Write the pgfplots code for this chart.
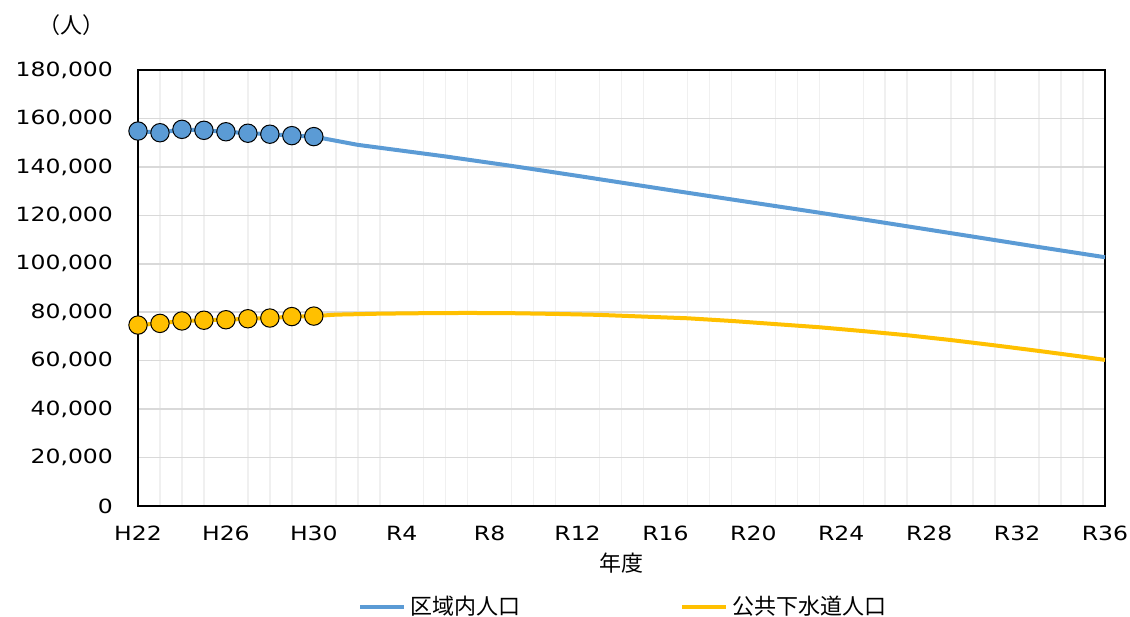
\documentclass[border=0pt]{standalone}
\usepackage{fontspec}
\setmainfont{DejaVu Sans}[FakeStretch=1.2]
\newfontfamily\cjk{Noto Sans CJK JP}
\usepackage{pgfplots}
\pgfplotsset{compat=1.18}
\definecolor{popblue}{HTML}{5B9BD5}
\definecolor{sewer}{HTML}{FFC000}
\definecolor{hgrid}{HTML}{D9D9D9}
\definecolor{vgrid}{HTML}{F0F0F0}

\begin{document}
\begin{tikzpicture}[font=\fontsize{9.8}{12}\selectfont]
% page = 1130 x 616 px, 1 px = 0.5pt
\path[use as bounding box] (-69pt,-55pt) rectangle (496pt,253pt);
\begin{axis}[
  at={(0,0)}, anchor=south west,
  width=483.5pt, height=218pt, scale only axis,
  xmin=0, xmax=44, ymin=0, ymax=180000,
  xtick={0,4,...,44},
  xticklabels={H22,H26,H30,R4,R8,R12,R16,R20,R24,R28,R32,R36},
  minor x tick num=3,
  ytick={0,20000,...,180000},
  scaled y ticks=false,
  /pgf/number format/fixed,
  /pgf/number format/1000 sep={,},
  /pgf/number format/assume math mode=true,
  yticklabel style={xshift=-9pt},
  xticklabel style={yshift=-6.5pt},
  major tick length=0pt, minor tick length=0pt,
  xminorgrids, ymajorgrids,
  minor x grid style={vgrid, line width=0.75pt},
  major y grid style={hgrid, line width=0.75pt},
  axis line style={black, line width=0.6pt},
  clip=false,
  legend style={at={(0.503,-0.232)}, anchor=center, draw=none, fill=none,
    legend columns=2, font=\cjk\fontsize{11}{13}\selectfont,
    /tikz/every even column/.append style={column sep=78pt}},
  legend image code/.code={\draw[#1] (0pt,0pt) -- (22pt,0pt);},
]
\addplot[popblue, line width=2pt] coordinates {
  (0,154800) (1,154100) (2,155500) (3,155100) (4,154500) (5,153900)
  (6,153500) (7,152900) (8,152500) (9,150800) (10,149100) (12,146700)
  (14,144300) (17,140400) (20,136300) (24,130700) (28,125200) (31,121100)
  (34,116900) (38,111200) (41,106900) (44,102700)
};
\addlegendentry{区域内人口}
\addplot[sewer, line width=2pt] coordinates {
  (0,74700) (1,75400) (2,76400) (3,76700) (4,76900) (5,77300)
  (6,77600) (7,78200) (8,78400) (9,79000) (11,79400) (13,79600)
  (15,79700) (17,79600) (19,79300) (21,78900) (23,78200) (25,77500)
  (27,76400) (29,75100) (31,73800) (33,72200) (35,70500) (37,68500)
  (39,66300) (41,64000) (43,61600) (44,60300)
};
\addlegendentry{公共下水道人口}
\addplot[only marks, mark=*, mark size=4.6pt,
  mark options={fill=popblue, draw=black, line width=0.5pt}, forget plot] coordinates {
  (0,154800) (1,154100) (2,155500) (3,155100) (4,154500) (5,153900)
  (6,153500) (7,152900) (8,152500)
};
\addplot[only marks, mark=*, mark size=4.6pt,
  mark options={fill=sewer, draw=black, line width=0.5pt}, forget plot] coordinates {
  (0,74700) (1,75400) (2,76400) (3,76700) (4,76900) (5,77300)
  (6,77600) (7,78200) (8,78400)
};
\node[font=\cjk\fontsize{11}{13}\selectfont] at (rel axis cs:0,1) [xshift=-33pt, yshift=22.5pt] {（人）};
\node[font=\cjk\fontsize{11}{13}\selectfont] at (rel axis cs:0.5,0) [yshift=-28.5pt] {年度};
\end{axis}
\end{tikzpicture}
\end{document}
